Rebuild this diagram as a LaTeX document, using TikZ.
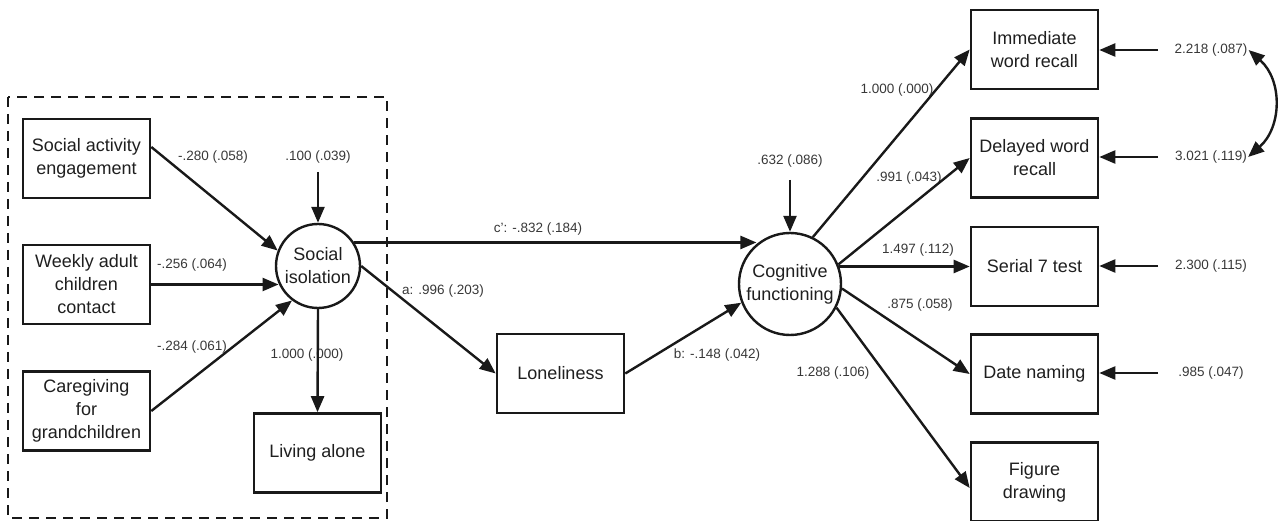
\documentclass[tikz,border=0pt]{standalone}
\usepackage{fontspec}
\setmainfont{Liberation Sans}
\usetikzlibrary{arrows.meta,calc}
\begin{document}
\begin{tikzpicture}[x=1pt,y=-1pt,
  box/.style={draw=black!90, line width=2.6pt, minimum width=127pt, minimum height=79pt, inner sep=0pt, align=center, font=\fontsize{18}{23}\selectfont, text=black!88},
  lat/.style={draw=black!90, line width=2.4pt, circle, minimum size=84pt, inner sep=0pt, align=center, font=\fontsize{18}{23}\selectfont, text=black!88},
  lbl/.style={font=\fontsize{13.5}{16}\selectfont, text=black!78, inner sep=1pt},
  arr/.style={line width=2.4pt, draw=black!90, -{Triangle[length=16pt,width=13pt]}},
]
\useasboundingbox (0,0) rectangle (1278,521);
\fill[white] (0,0) rectangle (1278,521);
% group frame
\draw[line width=2.8pt, black!90, dash pattern=on 10pt off 7pt] (8,97) rectangle (387,518);
% nodes
\node[box] (sa) at (86.5,158.5) {Social activity\\engagement};
\node[box] (wa) at (86.5,284.5) {Weekly adult\\children\\contact};
\node[box] (cg) at (86.5,411) {Caregiving\\for\\grandchildren};
\node[lat] (si) at (318,266) {Social\\isolation};
\node[box] (la) at (317.5,453) {Living alone};
\node[box] (lon) at (560.5,373.5) {Loneliness};
\node[lat, minimum size=102pt] (cf) at (790,284) {Cognitive\\functioning};
\node[box] (imm) at (1034.5,49.5) {Immediate\\word recall};
\node[box] (del) at (1034.5,158) {Delayed word\\recall};
\node[box] (ser) at (1034.5,266.5) {Serial 7 test};
\node[box] (dat) at (1034.5,374) {Date naming};
\node[box] (fig) at (1034.5,482) {Figure\\drawing};
% labels
\node[lbl] (l1) at (213,157) {-.280 (.058)};
\node[lbl] (l2) at (318,157) {.100 (.039)};
\node[lbl] (l3) at (192,265) {-.256 (.064)};
\node[lbl] (l4) at (192,347) {-.284 (.061)};
\node[lbl] (l5) at (307,355) {1.000 (.000)};
\node[lbl] (l6) at (538,229) {c': -.832 (.184)};
\node[lbl] (l7) at (443,291) {a: .996 (.203)};
\node[lbl] (l8) at (717,355) {b: -.148 (.042)};
\node[lbl] (l9) at (790,161) {.632 (.086)};
\node[lbl] (l10) at (897,90) {1.000 (.000)};
\node[lbl] (l11) at (909,178) {.991 (.043)};
\node[lbl] (l12) at (918,250) {1.497 (.112)};
\node[lbl] (l13) at (920,305) {.875 (.058)};
\node[lbl] (l14) at (833,373) {1.288 (.106)};
\node[lbl] (e1) at (1211,50) {2.218 (.087)};
\node[lbl] (e2) at (1211,157) {3.021 (.119)};
\node[lbl] (e3) at (1211,266) {2.300 (.115)};
\node[lbl] (e4) at (1211,373) {.985 (.047)};
% free ends
\coordinate (s1) at (318,172);
\coordinate (s2) at (790,180);
\coordinate (r1) at (1158,50);
\coordinate (r2) at (1158,157);
\coordinate (r3) at (1158,266);
\coordinate (r4) at (1158,373);
% connectors
\draw[arr] ([yshift=11.5pt]sa.east) -- (si.159);
\draw[arr] (wa.east) -- (wa.east -| si.204);
\draw[arr] (cg.east) -- (si.233);
\draw[arr] (s1) -- (si.north);
\draw[arr] (si.south) -- (la.north);
\draw[arr] (si.33) -- (si.33 -| cf.130);
\draw[arr] (si.east) -- (lon.west);
\draw[arr] (lon.east) -- (cf.201);
\draw[arr] (s2) -- (cf.north);
\draw[arr] (cf.64) -- (imm.west);
\draw[arr] (cf.22) -- (del.west);
\draw[arr] (ser.west -| cf.20) -- (ser.west);
\draw[arr] (cf.-5) -- (dat.west);
\draw[arr] (cf.-27) -- ([yshift=-6pt]fig.west);
\draw[arr] (r1) -- (r1 -| imm.east);
\draw[arr] (r2) -- (r2 -| del.east);
\draw[arr] (r3) -- (r3 -| ser.east);
\draw[arr] (r4) -- (r4 -| dat.east);
\draw[line width=2.4pt, black!90, {Triangle[length=16pt,width=13pt]}-{Triangle[length=16pt,width=13pt]}] (e1.east) .. controls +(34,30) and +(34,-30) .. (e2.east);
\end{tikzpicture}
\end{document}
